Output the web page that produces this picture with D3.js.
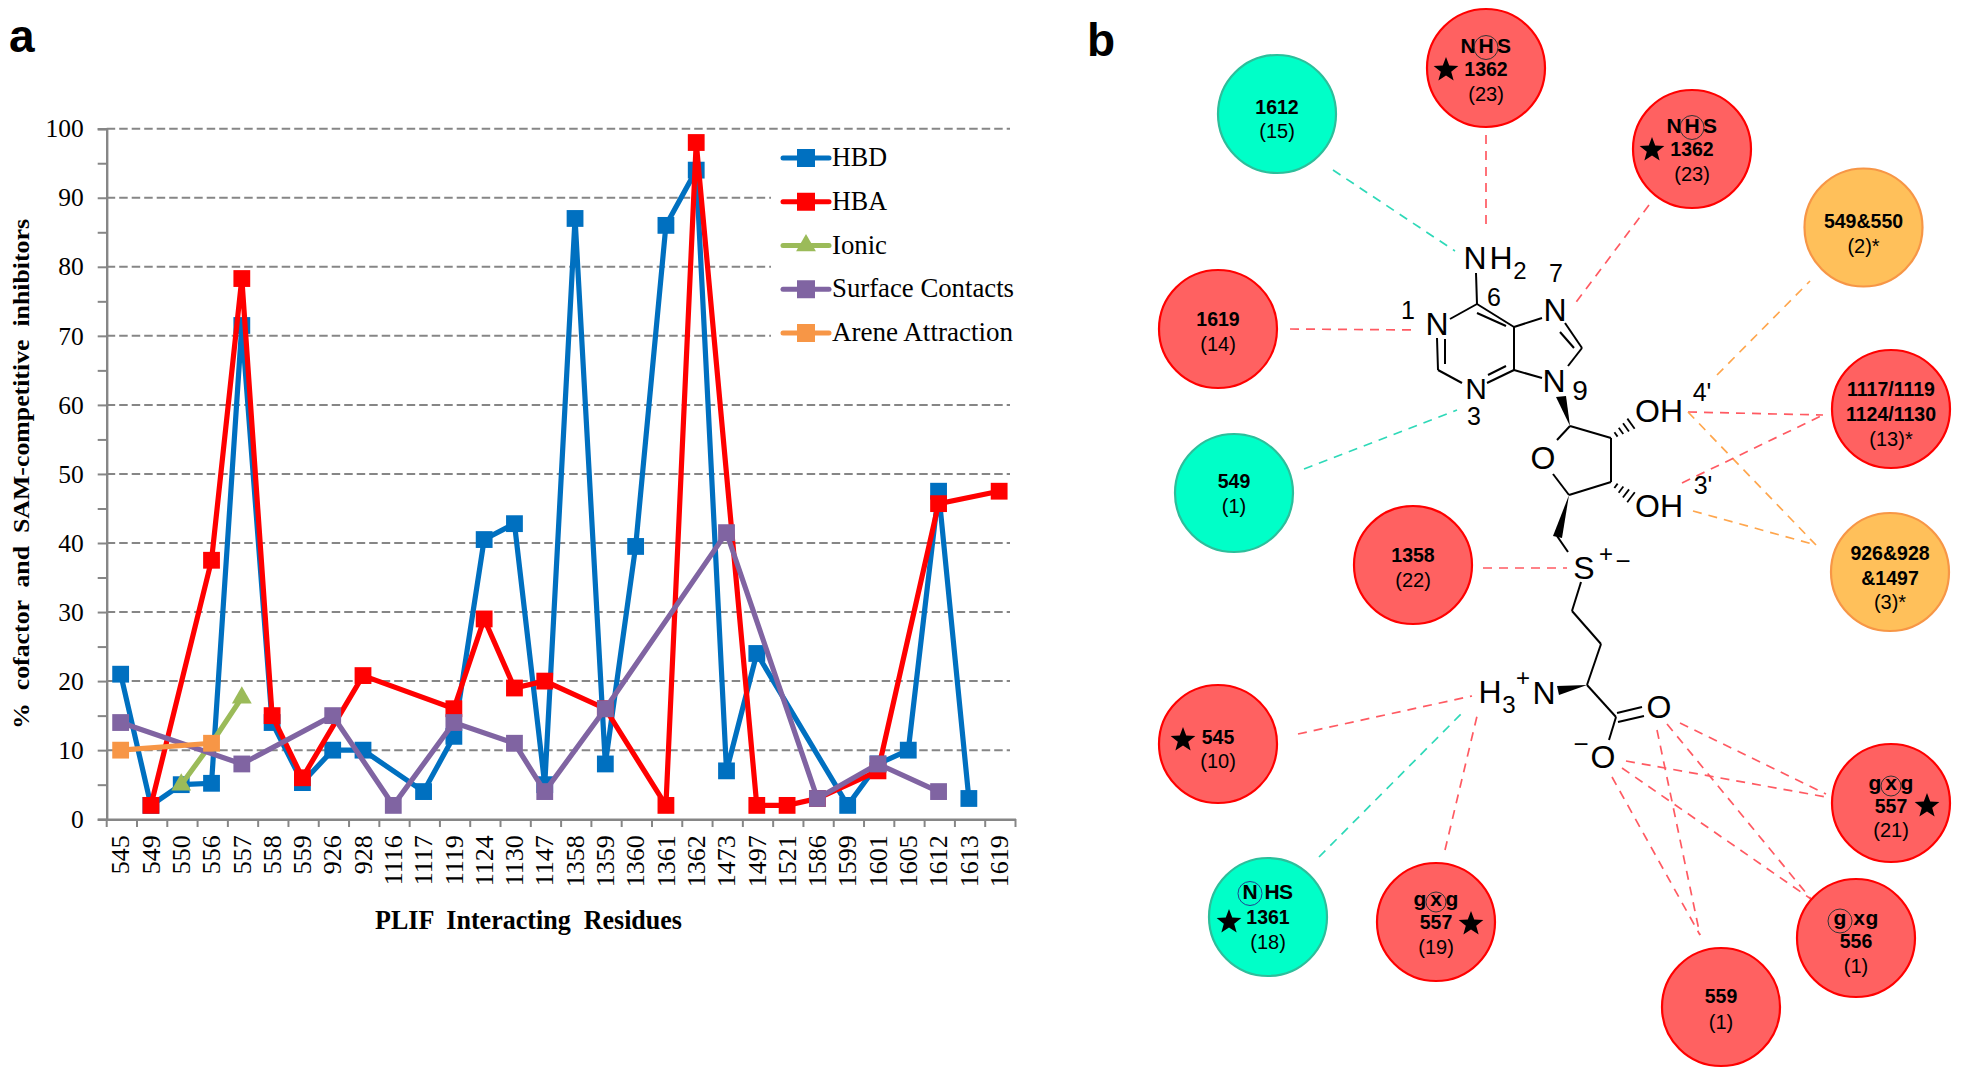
<!DOCTYPE html>
<html><head><meta charset="utf-8">
<script src="https://cdn.jsdelivr.net/npm/d3@7"></script>
<style>html,body{margin:0;padding:0;background:#fff}svg{display:block}.pre{white-space:pre}</style>
</head><body><svg id="c" width="1961" height="1072"></svg>
<script>
// ---------- panel a data ----------
const residues = ["545","549","550","556","557","558","559","926","928","1116","1117","1119","1124","1130","1147","1358","1359","1360","1361","1362","1473","1497","1521","1586","1599","1601","1605","1612","1613","1619"];
const hbd     = [21,2,5,5.2,71.5,14,5.3,10,10,null,4,12,40.5,42.8,5,87,8,39.5,86,94,7,24,null,null,2,8,10,47.5,3,null];
const hba     = [null,2,null,37.5,78.3,15,6,null,20.8,null,null,16,29,19,20,null,16,null,2,98,null,2,2,3,null,7,null,45.7,null,47.5];
const ionic   = [null,null,5,11,17.6,null,null,null,null,null,null,null,null,null,null,null,null,null,null,null,null,null,null,null,null,null,null,null,null,null];
const surface = [14,null,null,null,8,null,null,15,null,2,null,14,null,11,4,null,16,null,null,null,41.5,null,null,3,null,8,null,4,null,null];
const arene   = [10,null,null,11,null,null,null,null,null,null,null,null,null,null,null,null,null,null,null,null,null,null,null,null,null,null,null,null,null,null];
const seriesNames = ["HBD","HBA","Ionic","Surface Contacts","Arene Attraction"];
const seriesValues = [hbd,hba,ionic,surface,arene];
const seriesColors = ["#0070C0","#FF0000","#9BBB59","#8064A2","#F79646"];
const yTicks = [0,10,20,30,40,50,60,70,80,90,100];
const yMinor = [5,15,25,35,45,55,65,75,85,95];

const svg = d3.select("#c");
const x = d3.scaleBand().domain(residues).range([106.7,1015.5]);
const y = d3.scaleLinear().domain([0,100]).range([819.2,128.7]);
const SERIF = "'Liberation Serif','Times New Roman',serif", SANS = "'Liberation Sans',Arial,sans-serif";
const cx = d => x(d)+x.bandwidth()/2-1.2;

// grid
const a = svg.append("g");
a.append("g").selectAll("line").data(yTicks.filter(d=>d>0)).join("line")
  .attr("x1",106.7).attr("x2",1010).attr("y1",d=>y(d)).attr("y2",d=>y(d))
  .attr("stroke","#868686").attr("stroke-width",2).attr("stroke-dasharray","8.5 4");

// axes
const yAx = a.append("g").attr("transform","translate(106.7,0)")
  .call(d3.axisLeft(y).tickValues(yTicks).tickSize(9).tickPadding(14).tickFormat(d3.format("d")));
yAx.select(".domain").attr("stroke","#868686").attr("stroke-width",2.4);
yAx.selectAll("line").attr("stroke","#868686").attr("stroke-width",2);
yAx.selectAll("text").attr("font-family",SERIF).attr("font-size",25.5).attr("fill","#000");
const yMin = a.append("g").attr("transform","translate(106.7,0)")
  .call(d3.axisLeft(y).tickValues(yMinor).tickSize(9).tickFormat(""));
yMin.select(".domain").remove(); yMin.selectAll("line").attr("stroke","#868686").attr("stroke-width",2);

const xAx = a.append("g").attr("transform","translate(0,819.2)")
  .call(d3.axisBottom(x).tickSize(0).tickPadding(0));
xAx.select(".domain").attr("stroke","#868686").attr("stroke-width",2.4);
xAx.selectAll("text").attr("font-family",SERIF).attr("font-size",26).attr("fill","#000")
  .attr("text-anchor","end").attr("dy",0).attr("y",0).attr("x",0)
  .attr("transform","translate(7.5,16) rotate(-90)");
a.append("g").selectAll("line").data(residues.concat(["end"])).join("line")
  .attr("x1",d=>d==="end"?x.range()[1]:x(d)).attr("x2",d=>d==="end"?x.range()[1]:x(d))
  .attr("y1",819).attr("y2",827).attr("stroke","#868686").attr("stroke-width",2);

// lines and markers
const lineGen = d3.line().x(d=>cx(d.r)).y(d=>y(d.v));
seriesNames.forEach((name,i)=>{
  const pts = residues.map((r,j)=>({r,v:seriesValues[i][j]})).filter(d=>d.v!==null);
  const g = a.append("g");
  g.append("path").attr("d",lineGen(pts)).attr("fill","none").attr("stroke",seriesColors[i])
    .attr("stroke-width",5.2).attr("stroke-linejoin","miter");
  if(name==="Ionic"){
    g.selectAll("path.m").data(pts.filter(d=>d.r!=="556")).join("path").attr("class","m")
      .attr("d",d3.symbol(d3.symbolTriangle,170)).attr("transform",d=>`translate(${cx(d.r)},${y(d.v)})`)
      .attr("fill",seriesColors[i]);
  } else {
    g.selectAll("rect").data(pts).join("rect")
      .attr("x",d=>cx(d.r)-8.4).attr("y",d=>y(d.v)-8.4).attr("width",16.8).attr("height",16.8)
      .attr("fill",seriesColors[i]);
  }
});

// legend
a.append("rect").attr("x",771).attr("y",145).attr("width",246).attr("height",205).attr("fill","#fff");
const legY = d3.scalePoint().domain(seriesNames).range([158,333]);
const legTextW = [55,55,55,182,181];
seriesNames.forEach((name,i)=>{
  const g=a.append("g").attr("transform",`translate(0,${legY(name)})`);
  g.append("line").attr("x1",783).attr("x2",829).attr("stroke",seriesColors[i]).attr("stroke-width",5).attr("stroke-linecap","round");
  if(name==="Ionic") g.append("path").attr("d",d3.symbol(d3.symbolTriangle,170)).attr("transform","translate(806,0)").attr("fill",seriesColors[i]);
  else g.append("rect").attr("x",797).attr("y",-9).attr("width",18).attr("height",18).attr("fill",seriesColors[i]);
  g.append("text").attr("x",832).attr("y",8).attr("font-family",SERIF).attr("font-size",27)
    .attr("textLength",legTextW[i]).attr("lengthAdjust","spacingAndGlyphs").text(name);
});

// axis titles
a.append("text").attr("class","pre").attr("x",375).attr("y",929).attr("font-family",SERIF).attr("font-weight","bold").attr("font-size",27)
  .attr("textLength",307).attr("lengthAdjust","spacingAndGlyphs").text("PLIF  Interacting  Residues");
a.append("text").attr("class","pre").attr("transform","translate(29,729) rotate(-90)").attr("font-family",SERIF).attr("font-weight","bold").attr("font-size",24)
  .attr("textLength",510).attr("lengthAdjust","spacingAndGlyphs").text("%  cofactor  and  SAM-competitive  inhibitors");

// panel letters
svg.append("text").attr("x",9).attr("y",52).attr("font-family",SANS).attr("font-weight","bold").attr("font-size",46).text("a");
svg.append("text").attr("x",1087).attr("y",56).attr("font-family",SANS).attr("font-weight","bold").attr("font-size",46).text("b");

// ---------- panel b ----------
const RED={f:"#FF6161",s:"#FF0000"}, TEAL={f:"#00FFC8",s:"#2DBE9B"}, ORANGE={f:"#FFC05A",s:"#F79646"};
const nodeLabels = [
 {c:TEAL,  p:[1277,114], lines:["1612","(15)"], o:[-7,17]},
 {c:RED,   p:[1486,68],  head:{t:"NHS",ring:1,dx:[-18,0,18],r:12}, lines:["1362","(23)"], o:[-23,1,26], star:[-40,2]},
 {c:RED,   p:[1692,149], head:{t:"NHS",ring:1,dx:[-18,0,18],r:12}, lines:["1362","(23)"], o:[-24,0,25], star:[-40,1]},
 {c:ORANGE,p:[1863.5,227.5], lines:["549&550","(2)*"], o:[-6.5,18.5]},
 {c:RED,   p:[1218,329], lines:["1619","(14)"], o:[-10,15]},
 {c:RED,   p:[1891,409], lines:["1117/1119","1124/1130","(13)*"], o:[-20,5,30]},
 {c:TEAL,  p:[1234,493], lines:["549","(1)"], o:[-12,13]},
 {c:RED,   p:[1413,565], lines:["1358","(22)"], o:[-10,15]},
 {c:ORANGE,p:[1890,572], lines:["926&928","&1497","(3)*"], o:[-19,6,30]},
 {c:RED,   p:[1218,744], lines:["545","(10)"], o:[-7,17], star:[-35,-4]},
 {c:RED,   p:[1891,803], head:{t:"gxg",ring:1,dx:[-16,0,16],r:10}, lines:["557","(21)"], o:[-21,3,27], star:[36,3]},
 {c:TEAL,  p:[1268,917], head:{t:"NHS",ring:0,dx:[-18,4,18],r:12}, lines:["1361","(18)"], o:[-26,0,25], star:[-39,5]},
 {c:RED,   p:[1436,922], head:{t:"gxg",ring:1,dx:[-16,0,16],r:10}, lines:["557","(19)"], o:[-24,0,25], star:[35,2]},
 {c:RED,   p:[1856,938], head:{t:"gxg",ring:0,dx:[-16,3,16],r:12}, lines:["556","(1)"], o:[-21,3,28]},
 {c:RED,   p:[1721,1007],lines:["559","(1)"], o:[-11,15]}
];
// dashed contacts: from, to, colour
const contactColors={r:"#FF5A62",t:"#2ED9B8",o:"#FFA64D"};
const contacts = [
 ["t",1333,170,1455,251],["r",1486,135,1486,230],["r",1649,205,1574,305],["r",1290,329,1418,330],
 ["t",1304,469,1457,410],["o",1717,375,1810,281],["r",1688,412,1823,415],["o",1688,412,1816,545],
 ["r",1682,483,1823,415],["o",1693,511,1816,545],["r",1483,568,1567,568],["r",1298,734,1472,696],
 ["t",1319,857,1465,710],["r",1445,850,1478,712],["r",1680,723,1826,794],["r",1667,724,1811,899],
 ["r",1657,730,1700,935],["r",1626,761,1826,797],["r",1622,768,1811,899],["r",1612,777,1700,935]
];
const b = svg.append("g");
b.selectAll("line.c").data(contacts).join("line").attr("class","c")
 .attr("x1",d=>d[1]).attr("y1",d=>d[2]).attr("x2",d=>d[3]).attr("y2",d=>d[4])
 .attr("stroke",d=>contactColors[d[0]]).attr("stroke-width",1.7).attr("stroke-dasharray","9 7");

const star=(r)=>{const pts=[];for(let i=0;i<10;i++){const R=i%2?r*0.42:r,t=-Math.PI/2+i*Math.PI/5;pts.push([R*Math.cos(t),R*Math.sin(t)]);}return d3.line()(pts)+"Z";};
nodeLabels.forEach(n=>{
  const g=b.append("g").attr("transform",`translate(${n.p[0]},${n.p[1]})`);
  g.append("circle").attr("r",59).attr("fill",n.c.f).attr("stroke",n.c.s).attr("stroke-width",2.2);
  let li=0;
  const txt=(s,yy,bold,dx=0,fs)=>g.append("text").attr("x",dx).attr("y",yy).attr("text-anchor","middle").attr("dominant-baseline","central")
     .attr("font-family",SANS).attr("font-weight",bold?"bold":"normal").attr("font-size",fs||(bold?19.5:20)).attr("fill","#000").text(s);
  if(n.head){
    const h=n.head, yy=n.o[0];
    h.t.split("").forEach((ch,i)=>{txt(ch,yy,true,h.dx[i],21);});
    const ringY = yy + (h.t==="gxg" ? 4 : 2.5);
    g.append("circle").attr("cx",h.dx[h.ring]).attr("cy",ringY).attr("r",h.r).attr("fill","none").attr("stroke",n.c===TEAL?"#1f3f8f":"#333").attr("stroke-width",1);
    li=1;
  }
  n.lines.forEach((s,i)=>{
    const isSub=s.startsWith("(");
    txt(s,n.o[i+li],!isSub);
  });
  if(n.star) g.append("path").attr("d",star(13)).attr("transform",`translate(${n.star[0]},${n.star[1]})`).attr("fill","#000");
});

// molecule bonds
const bonds=[
[1476,273,1477,304],[1477,304,1450,319],[1437,338,1438,370],[1445,339,1445,364],[1438,370,1462,383],
[1487,383,1514,370],[1488,375,1506,366],[1514,370,1514,327],[1514,327,1477,304],[1506,326,1477,313],
[1514,327,1542,318],[1565,323,1582,348],[1560,332,1574,348],[1582,348,1568,366],[1514,370,1542,378],
[1570,426,1611,438],[1611,438,1611,482],[1611,482,1569,495],[1570,426,1557,440],[1569,495,1553,474],
[1557,536,1568,552],[1581,582,1572,611],[1572,611,1601,644],[1601,644,1587,685],[1587,685,1616,717],
[1617,713,1642,707],[1618,722,1644,716],[1616,717,1609,740]];
b.selectAll("line.b").data(bonds).join("line").attr("class","b")
 .attr("x1",d=>d[0]).attr("y1",d=>d[1]).attr("x2",d=>d[2]).attr("y2",d=>d[3])
 .attr("stroke","#000").attr("stroke-width",2);
// wedges
[[[1556,397],[1566,396],[1570,426]],[[1569,495],[1553,536],[1562,538]],[[1587,685],[1557,686],[1559,695]]]
 .forEach(w=>b.append("path").attr("d",d3.line()(w)+"Z").attr("fill","#000"));
// hashed wedges
[[1611,438,1632,423],[1611,482,1632,498]].forEach(h=>{
  d3.range(1,5).forEach(i=>{
    const t=i/4.2, mx=h[0]+(h[2]-h[0])*t, my=h[1]+(h[3]-h[1])*t, L=1.5+t*5;
    const nx=-(h[3]-h[1]), ny=h[2]-h[0], l=Math.hypot(nx,ny);
    b.append("line").attr("x1",mx-nx/l*L).attr("y1",my-ny/l*L).attr("x2",mx+nx/l*L).attr("y2",my+ny/l*L).attr("stroke","#000").attr("stroke-width",1.8);
  });
});
// atom labels
const atoms=[
 ["N",1475,258,32],["H",1501,258,32],["2",1520,270,24],["N",1437,324,32],["N",1476,388,30],["N",1555,310,32],["N",1554,381,32],
 ["O",1543,458,32],["OH",1659,411,32],["OH",1659,506,32],["S",1584,568,32],["+",1606,553,24],["−",1623,561,26],
 ["H",1490,692,32],["3",1509,704,24],["+",1523,677,24],["N",1544,693,32],["O",1659,707,32],["O",1603,757,32],["−",1581,744,26],
 ["1",1408,310,25],["6",1494,297,25],["7",1556,273,25],["9",1580,390,28],["3",1474,416,25],["4'",1702,392,25],["3'",1703,485,25]
];
b.selectAll("text.at").data(atoms).join("text").attr("class","at").attr("x",d=>d[1]).attr("y",d=>d[2])
 .attr("text-anchor","middle").attr("dominant-baseline","central").attr("font-family",SANS).attr("font-size",d=>d[3]).attr("fill","#000").text(d=>d[0]);
</script></body></html>
